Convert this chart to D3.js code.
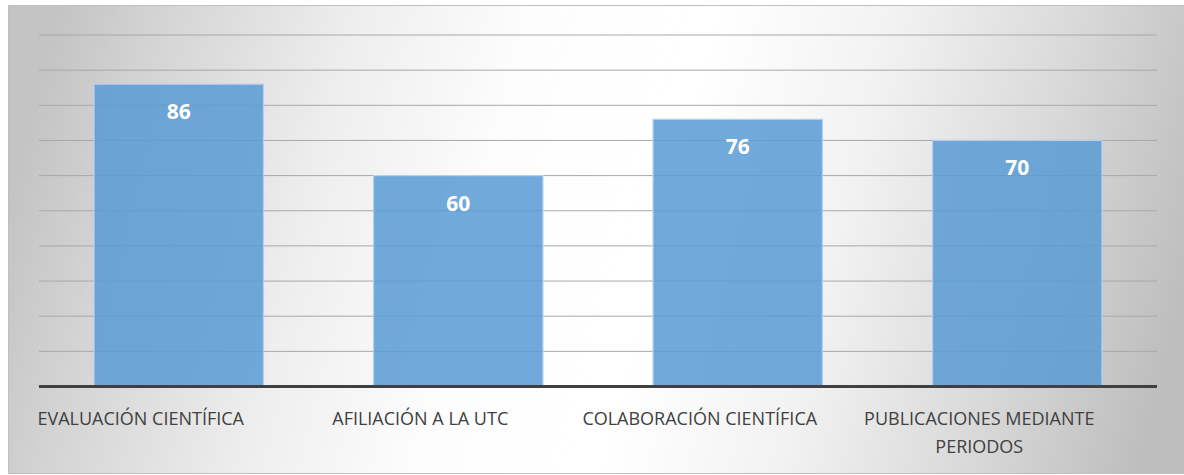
<!DOCTYPE html>
<html>
<head>
<meta charset="utf-8">
<script src="https://cdn.jsdelivr.net/npm/d3@7"></script>
<style>
  body { margin: 0; background: #fff; }
  svg { display: block; }
</style>
</head>
<body>
<svg id="chart" width="1184" height="475"></svg>
<script>
const categories = ["EVALUACIÓN CIENTÍFICA", "AFILIACIÓN A LA UTC", "COLABORACIÓN CIENTÍFICA", "PUBLICACIONES MEDIANTE PERIODOS"];
const values = [86, 60, 76, 70];
const gridTicks = [10, 20, 30, 40, 50, 60, 70, 80, 90, 100];

const svg = d3.select("#chart");
const plot = { left: 39, right: 1157, top: 35, bottom: 386.5 };

// background gradient, grey at the sides and white in the middle
const defs = svg.append("defs");
const grad = defs.append("linearGradient")
  .attr("id", "bg")
  .attr("x1", 0).attr("y1", 0.45).attr("x2", 1).attr("y2", 0.55);
[[0, "#c4c4c4"], [0.08, "#d3d3d3"], [0.25, "#eeeeee"], [0.4, "#fdfdfd"], [0.55, "#ffffff"],
 [0.7, "#f2f2f2"], [0.85, "#dadada"], [1, "#bebebe"]].forEach(([o, c]) => {
  grad.append("stop").attr("offset", o).attr("stop-color", c);
});

svg.append("rect")
  .attr("x", 8.5).attr("y", 5.5)
  .attr("width", 1180).attr("height", 468)
  .attr("fill", "url(#bg)")
  .attr("stroke", "#c0c0c0");

const x = d3.scaleBand()
  .domain(categories)
  .range([plot.left, plot.right])
  .padding(0);

const y = d3.scaleLinear()
  .domain([0, 100])
  .range([plot.bottom, plot.top]);

// Gridlines
svg.append("g")
  .selectAll("line")
  .data(gridTicks)
  .join("line")
  .attr("x1", plot.left)
  .attr("x2", plot.right)
  .attr("y1", d => y(d))
  .attr("y2", d => y(d))
  .attr("stroke", "#a8a8a8")
  .attr("stroke-width", 1);

// Bars, Excel style gap width of 65%
const barWidth = x.bandwidth() / 1.65;

svg.append("g")
  .selectAll("rect")
  .data(values)
  .join("rect")
  .attr("x", (d, i) => x(categories[i]) + (x.bandwidth() - barWidth) / 2)
  .attr("y", d => y(d))
  .attr("width", barWidth)
  .attr("height", d => y(0) - y(d))
  .attr("fill", "#5b9bd5")
  .attr("fill-opacity", 0.86)
  .attr("stroke", "#b3cfee")
  .attr("stroke-width", 1.2);

// Value labels inside the bars
svg.append("g")
  .selectAll("text")
  .data(values)
  .join("text")
  .attr("x", (d, i) => x(categories[i]) + x.bandwidth() / 2)
  .attr("y", d => y(d) + 35)
  .attr("text-anchor", "middle")
  .attr("fill", "#ffffff")
  .style("font-family", "'Open Sans', sans-serif")
  .style("font-weight", "bold")
  .style("font-size", "21px")
  .text(d => d);

// Axis line
svg.append("line")
  .attr("x1", plot.left)
  .attr("x2", plot.right)
  .attr("y1", y(0))
  .attr("y2", y(0))
  .attr("stroke", "#404040")
  .attr("stroke-width", 3);

// Category labels, wrapped to the band width
const labels = svg.append("g")
  .selectAll("text")
  .data(categories)
  .join("text")
  .attr("x", d => x(d) + x.bandwidth() / 2 - 38)
  .attr("y", y(0) + 38.5)
  .attr("text-anchor", "middle")
  .attr("fill", "#404040")
  .style("font-family", "'Open Sans', sans-serif")
  .style("font-size", "18px");

labels.each(function (d) {
  const text = d3.select(this);
  const words = d.split(" ");
  const maxW = x.step() - 10;
  let line = [];
  let tspan = text.append("tspan").attr("x", text.attr("x")).attr("dy", 0);
  words.forEach(w => {
    line.push(w);
    tspan.text(line.join(" "));
    if (tspan.node().getComputedTextLength() > maxW && line.length > 1) {
      line.pop();
      tspan.text(line.join(" "));
      line = [w];
      tspan = text.append("tspan").attr("x", text.attr("x")).attr("dy", 28).text(w);
    }
  });
});
</script>
</body>
</html>
